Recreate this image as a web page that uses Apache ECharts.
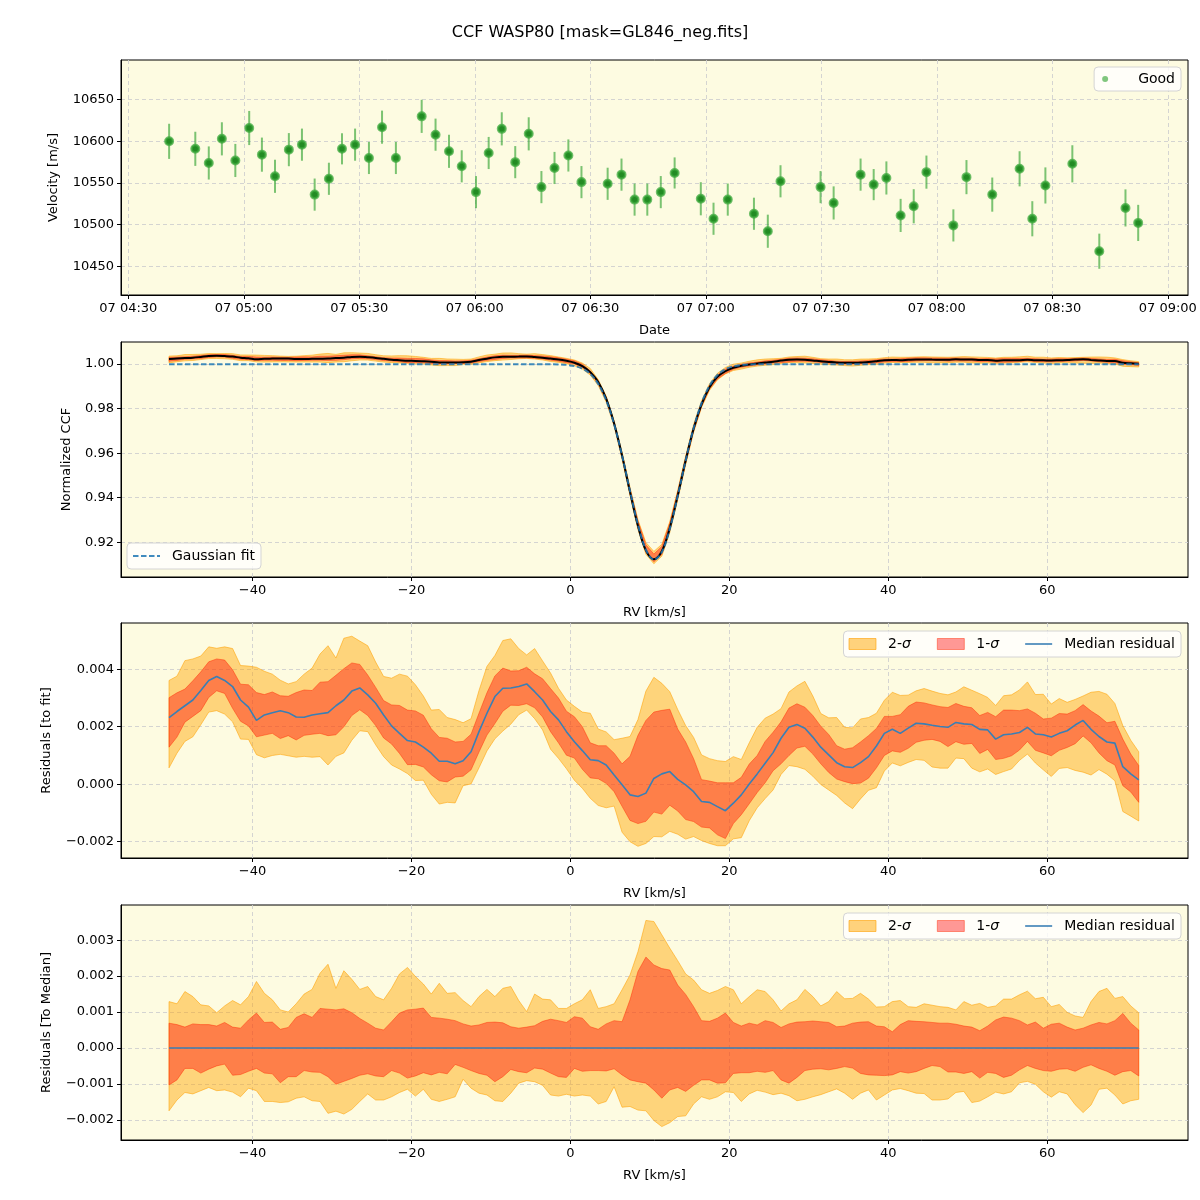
<!DOCTYPE html>
<html>
<head>
<meta charset="utf-8">
<script src="https://cdn.jsdelivr.net/npm/echarts/dist/echarts.min.js"></script>
<style>html,body{margin:0;padding:0;background:#fff}#c{width:1200px;height:1200px}</style>
</head>
<body>
<div id="c"></div>
<script>
// ---------------- DATA ----------------
// Panel 1: RV time series (time of day on the 7th, velocity m/s, error m/s)
const obsTimes = ['04:40:36','04:47:24','04:50:54','04:54:18','04:57:48','05:01:24','05:04:42','05:08:06','05:11:42','05:15:06',
 '05:18:24','05:22:06','05:25:30','05:28:54','05:32:30','05:35:54','05:39:30','05:46:12','05:49:48','05:53:18',
 '05:56:36','06:00:18','06:03:36','06:07:00','06:10:30','06:14:00','06:17:18','06:20:42','06:24:18','06:27:42',
 '06:34:30','06:38:06','06:41:30','06:44:48','06:48:18','06:51:54','06:58:42','07:02:00','07:05:42','07:12:30',
 '07:16:06','07:19:24','07:29:48','07:33:12','07:40:12','07:43:36','07:46:54','07:50:36','07:54:00','07:57:18',
 '08:04:18','08:07:42','08:14:24','08:21:30','08:24:48','08:28:12','08:35:12','08:42:12','08:49:00','08:52:18'];
const obsVel = [10600,10591,10574,10603,10577,10616,10584,10558,10590,10596,
 10536,10555,10591,10596,10580,10617,10580,10630,10608,10588,
 10570,10539,10586,10615,10575,10609,10545,10568,10583,10551,
 10549,10560,10530,10530,10539,10562,10531,10507,10530,10513,
 10492,10552,10545,10526,10560,10548,10556,10511,10522,10563,
 10499,10557,10536,10567,10507,10547,10573,10468,10520,10502];
const obsErr = [21.1,20.5,19.9,19.9,19.9,20.5,20.5,19.9,19.9,19.3,
 19.3,19.3,18.7,19.3,19.3,19.9,19.3,19.9,19.3,19.9,
 19.3,19.3,19.3,19.9,19.3,19.9,19.3,19.3,19.3,19.3,
 19.3,19.3,19.3,19.3,19.3,18.7,19.9,19.3,19.3,19.3,
 19.9,19.3,19.3,19.9,19.3,18.7,19.9,19.9,20.5,19.9,
 19.3,20.5,20.5,21.1,21.1,21.7,22.3,21.1,22.3,21.7];
const timeTicks = ['04:30','05:00','05:30','06:00','06:30','07:00','07:30','08:00','08:30','09:00'];

// Panels 2-4: RV grid (km/s)
const rv = [-50.5,-49.5,-48.5,-47.5,-46.5,-45.5,-44.5,-43.5,-42.5,-41.5,-40.5,-39.5,-38.5,-37.5,-36.5,-35.5,-34.5,-33.5,-32.5,-31.5,
 -30.5,-29.5,-28.5,-27.5,-26.5,-25.5,-24.5,-23.5,-22.5,-21.5,-20.5,-19.5,-18.5,-17.5,-16.5,-15.5,-14.5,-13.5,-12.5,-11.5,
 -10.5,-9.5,-8.5,-7.5,-6.5,-5.5,-4.5,-3.5,-2.5,-1.5,-0.5,0.5,1.5,2.5,3.5,4.5,5.5,6.5,7.5,8.5,
 9.5,10.5,11.5,12.5,13.5,14.5,15.5,16.5,17.5,18.5,19.5,20.5,21.5,22.5,23.5,24.5,25.5,26.5,27.5,28.5,
 29.5,30.5,31.5,32.5,33.5,34.5,35.5,36.5,37.5,38.5,39.5,40.5,41.5,42.5,43.5,44.5,45.5,46.5,47.5,48.5,
 49.5,50.5,51.5,52.5,53.5,54.5,55.5,56.5,57.5,58.5,59.5,60.5,61.5,62.5,63.5,64.5,65.5,66.5,67.5,68.5,
 69.5,70.5,71.5];
// Gaussian fit (dashed line)
const gaussFit = [0.99995,0.99995,0.99995,0.99995,0.99995,0.99995,0.99995,0.99995,0.99995,0.99995,0.99995,0.99995,0.99995,0.99995,0.99995,0.99995,0.99995,0.99995,0.99995,0.99995,
 0.99995,0.99995,0.99995,0.99995,0.99995,0.99995,0.99995,0.99995,0.99995,0.99995,0.99995,0.99995,0.99995,0.99995,0.99995,0.99995,0.99995,0.99995,0.99995,0.99995,
 0.99995,0.99995,0.99995,0.99995,0.99995,0.99995,0.99995,0.99995,0.99992,0.99984,0.99963,0.99912,0.99794,0.99553,0.99110,0.98378,0.97297,0.95890,0.94299,0.92783,
 0.91665,0.91217,0.91557,0.92595,0.94076,0.95673,0.97119,0.98249,0.99027,0.99506,0.99769,0.99900,0.99959,0.99982,0.99991,0.99995,0.99995,0.99995,0.99995,0.99995,
 0.99995,0.99995,0.99995,0.99995,0.99995,0.99995,0.99995,0.99995,0.99995,0.99995,0.99995,0.99995,0.99995,0.99995,0.99995,0.99995,0.99995,0.99995,0.99995,0.99995,
 0.99995,0.99995,0.99995,0.99995,0.99995,0.99995,0.99995,0.99995,0.99995,0.99995,0.99995,0.99995,0.99995,0.99995,0.99995,0.99995,0.99995,0.99995,0.99995,0.99995,
 0.99995,0.99995,0.99995];
// Median residual to fit
const medRes = [0.00232,0.00253,0.00273,0.00293,0.00326,0.00361,0.00375,0.00361,0.00340,0.00293,0.00268,0.00222,0.00241,0.00249,0.00256,0.00249,0.00234,0.00233,0.00241,0.00245,
 0.00249,0.00273,0.00293,0.00324,0.00335,0.00311,0.00282,0.00241,0.00203,0.00177,0.00152,0.00147,0.00129,0.00108,0.00080,0.00080,0.00071,0.00082,0.00113,0.00183,
 0.00247,0.00305,0.00334,0.00335,0.00340,0.00349,0.00322,0.00293,0.00253,0.00224,0.00183,0.00148,0.00117,0.00085,0.00082,0.00067,0.00032,-0.00002,-0.00037,-0.00043,
 -0.00031,0.00020,0.00036,0.00044,0.00017,-0.00002,-0.00026,-0.00060,-0.00063,-0.00078,-0.00092,-0.00066,-0.00037,0.00001,0.00036,0.00073,0.00110,0.00160,0.00198,0.00208,
 0.00195,0.00164,0.00129,0.00102,0.00075,0.00061,0.00058,0.00075,0.00096,0.00133,0.00177,0.00191,0.00177,0.00195,0.00212,0.00210,0.00205,0.00201,0.00198,0.00215,
 0.00210,0.00208,0.00191,0.00189,0.00157,0.00172,0.00175,0.00180,0.00198,0.00175,0.00172,0.00164,0.00177,0.00186,0.00206,0.00222,0.00191,0.00166,0.00147,0.00143,
 0.00061,0.00036,0.00015];
// Percentile offsets relative to the median (panel 4)
const up2 = [0.00129,0.00123,0.00157,0.00143,0.00120,0.00117,0.00098,0.00117,0.00132,0.00120,0.00143,0.00185,0.00152,0.00134,0.00106,0.00100,0.00123,0.00150,0.00163,0.00208,
 0.00233,0.00166,0.00215,0.00191,0.00163,0.00171,0.00143,0.00134,0.00166,0.00206,0.00224,0.00199,0.00178,0.00150,0.00180,0.00152,0.00154,0.00132,0.00115,0.00143,
 0.00163,0.00143,0.00166,0.00171,0.00132,0.00101,0.00150,0.00136,0.00134,0.00110,0.00110,0.00123,0.00134,0.00162,0.00110,0.00115,0.00123,0.00162,0.00203,0.00268,
 0.00355,0.00352,0.00315,0.00278,0.00243,0.00206,0.00189,0.00162,0.00152,0.00160,0.00171,0.00162,0.00123,0.00143,0.00162,0.00157,0.00134,0.00103,0.00123,0.00134,
 0.00163,0.00143,0.00117,0.00129,0.00157,0.00137,0.00138,0.00152,0.00136,0.00114,0.00115,0.00129,0.00132,0.00115,0.00113,0.00123,0.00119,0.00115,0.00113,0.00106,
 0.00129,0.00119,0.00124,0.00113,0.00117,0.00136,0.00136,0.00148,0.00158,0.00137,0.00141,0.00115,0.00121,0.00099,0.00089,0.00085,0.00129,0.00157,0.00166,0.00138,
 0.00143,0.00117,0.00098];
const up1 = [0.00069,0.00065,0.00058,0.00067,0.00065,0.00065,0.00061,0.00071,0.00058,0.00055,0.00078,0.00097,0.00071,0.00072,0.00052,0.00057,0.00085,0.00095,0.00085,0.00110,
 0.00108,0.00106,0.00109,0.00098,0.00082,0.00069,0.00055,0.00050,0.00073,0.00097,0.00106,0.00108,0.00111,0.00085,0.00083,0.00080,0.00076,0.00067,0.00061,0.00064,
 0.00071,0.00072,0.00070,0.00059,0.00055,0.00058,0.00062,0.00074,0.00080,0.00076,0.00071,0.00087,0.00083,0.00059,0.00052,0.00067,0.00076,0.00073,0.00134,0.00213,
 0.00253,0.00231,0.00221,0.00217,0.00175,0.00149,0.00115,0.00076,0.00074,0.00083,0.00097,0.00071,0.00061,0.00069,0.00064,0.00076,0.00071,0.00057,0.00067,0.00072,
 0.00073,0.00075,0.00073,0.00071,0.00059,0.00061,0.00069,0.00072,0.00073,0.00061,0.00059,0.00045,0.00065,0.00076,0.00074,0.00073,0.00071,0.00069,0.00069,0.00066,
 0.00061,0.00058,0.00048,0.00061,0.00078,0.00086,0.00083,0.00076,0.00064,0.00072,0.00055,0.00066,0.00069,0.00058,0.00050,0.00055,0.00064,0.00071,0.00067,0.00076,
 0.00096,0.00069,0.00050];
const lo1 = [-0.00103,-0.00089,-0.00057,-0.00057,-0.00070,-0.00059,-0.00050,-0.00045,-0.00076,-0.00074,-0.00065,-0.00057,-0.00070,-0.00072,-0.00097,-0.00080,-0.00080,-0.00063,-0.00067,-0.00068,
 -0.00080,-0.00101,-0.00093,-0.00085,-0.00076,-0.00072,-0.00078,-0.00080,-0.00063,-0.00070,-0.00084,-0.00078,-0.00069,-0.00075,-0.00068,-0.00072,-0.00046,-0.00054,-0.00063,-0.00071,
 -0.00076,-0.00094,-0.00080,-0.00060,-0.00066,-0.00069,-0.00056,-0.00059,-0.00070,-0.00080,-0.00082,-0.00057,-0.00065,-0.00063,-0.00063,-0.00064,-0.00058,-0.00075,-0.00089,-0.00094,
 -0.00098,-0.00117,-0.00140,-0.00117,-0.00110,-0.00121,-0.00104,-0.00089,-0.00089,-0.00098,-0.00097,-0.00071,-0.00069,-0.00069,-0.00065,-0.00068,-0.00063,-0.00089,-0.00098,-0.00082,
 -0.00063,-0.00059,-0.00058,-0.00061,-0.00057,-0.00052,-0.00056,-0.00071,-0.00075,-0.00076,-0.00077,-0.00075,-0.00066,-0.00070,-0.00066,-0.00057,-0.00049,-0.00052,-0.00067,-0.00067,
 -0.00071,-0.00066,-0.00084,-0.00068,-0.00071,-0.00082,-0.00076,-0.00061,-0.00049,-0.00057,-0.00063,-0.00065,-0.00059,-0.00058,-0.00065,-0.00054,-0.00047,-0.00057,-0.00065,-0.00076,
 -0.00066,-0.00063,-0.00078];
const lo2 = [-0.00175,-0.00145,-0.00124,-0.00128,-0.00119,-0.00110,-0.00119,-0.00117,-0.00123,-0.00136,-0.00112,-0.00119,-0.00149,-0.00149,-0.00152,-0.00150,-0.00140,-0.00136,-0.00147,-0.00149,
 -0.00182,-0.00176,-0.00184,-0.00171,-0.00149,-0.00128,-0.00145,-0.00145,-0.00136,-0.00124,-0.00115,-0.00134,-0.00115,-0.00143,-0.00149,-0.00143,-0.00136,-0.00087,-0.00112,-0.00126,
 -0.00131,-0.00147,-0.00149,-0.00126,-0.00098,-0.00091,-0.00094,-0.00104,-0.00131,-0.00134,-0.00129,-0.00134,-0.00131,-0.00134,-0.00156,-0.00149,-0.00108,-0.00165,-0.00163,-0.00173,
 -0.00175,-0.00202,-0.00219,-0.00208,-0.00191,-0.00189,-0.00156,-0.00136,-0.00143,-0.00136,-0.00122,-0.00124,-0.00149,-0.00128,-0.00118,-0.00123,-0.00130,-0.00126,-0.00133,-0.00147,
 -0.00143,-0.00136,-0.00130,-0.00122,-0.00114,-0.00126,-0.00143,-0.00126,-0.00117,-0.00145,-0.00131,-0.00117,-0.00113,-0.00119,-0.00126,-0.00127,-0.00145,-0.00145,-0.00142,-0.00124,
 -0.00121,-0.00152,-0.00148,-0.00136,-0.00123,-0.00128,-0.00122,-0.00097,-0.00093,-0.00101,-0.00122,-0.00137,-0.00122,-0.00128,-0.00158,-0.00180,-0.00159,-0.00115,-0.00112,-0.00131,
 -0.00156,-0.00147,-0.00143];
const rvTicks = [-40,-20,0,20,40,60];
const velTicks = [10450,10500,10550,10600,10650];
const ccfTicks = [0.92,0.94,0.96,0.98,1.00];
const resTicks = [-0.002,0.000,0.002,0.004];
const medTicks = [-0.002,-0.001,0.000,0.001,0.002,0.003];

// ---------------- BUILD ----------------
const FONT = 'DejaVu Sans';
function toMin(s){const p=s.split(':').map(Number);return p[0]*60+p[1]+(p[2]||0)/60;}
const pad2 = n => (n<10?'0':'')+n;
const minus = s => s.replace('-', '\u2212');
const ccf = rv.map((x,i)=>gaussFit[i]+medRes[i]);
const zeroLine = rv.map(()=>0);

const grids = [60,342,623,905].map(t=>({left:121, top:t, width:1067, height:235, show:true,
  backgroundColor:'#fdfbe1', borderColor:'#000', borderWidth:1, containLabel:false, outerBoundsMode:'none'}));

const gridLine = {show:true, lineStyle:{color:'#cfcfcf', type:[4,3], width:0.9}};
const tickStyle = {show:true, inside:false, length:4, lineStyle:{color:'#000', width:1}};
const lblStyle = {color:'#000', fontSize:13, fontFamily:FONT, margin:7};
const nameStyle = {color:'#000', fontSize:13, fontFamily:FONT};

function xAx(gi, min, max, ticks, fmt, name){
  return {type:'value', gridIndex:gi, min, max, name, nameLocation:'middle', nameGap:29, nameTextStyle:nameStyle,
    axisLine:{show:true, onZero:false, lineStyle:{color:'#000', width:1}},
    axisTick:Object.assign({customValues:ticks}, tickStyle),
    axisLabel:Object.assign({customValues:ticks, formatter:fmt}, lblStyle),
    splitLine:gridLine};
}
function yAx(gi, min, max, ticks, fmt, name, gap){
  return {type:'value', gridIndex:gi, min, max, name, nameLocation:'middle', nameGap:gap, nameTextStyle:nameStyle,
    axisLine:{show:true, onZero:false, lineStyle:{color:'#000', width:1}},
    axisTick:Object.assign({customValues:ticks}, tickStyle),
    axisLabel:Object.assign({customValues:ticks, formatter:fmt}, lblStyle),
    splitLine:gridLine};
}
const timeFmt = v => { const m=Math.round(v); return '07 '+pad2(Math.floor(m/60))+':'+pad2(m%60); };
const rvFmt = v => minus(String(Math.round(v)));

const xAxes = [
  xAx(0, 268.1, 545.24, timeTicks.map(toMin), timeFmt, 'Date'),
  xAx(1, -56.54, 77.7, rvTicks, rvFmt, 'RV [km/s]'),
  xAx(2, -56.54, 77.7, rvTicks, rvFmt, 'RV [km/s]'),
  xAx(3, -56.54, 77.7, rvTicks, rvFmt, 'RV [km/s]')
];
const yAxes = [
  yAx(0, 10415.4, 10697.7, velTicks, v=>String(Math.round(v)), 'Velocity [m/s]', 61),
  yAx(1, 0.9044, 1.0099, ccfTicks, v=>v.toFixed(2), 'Normalized CCF', 48),
  yAx(2, -0.002567, 0.00561, resTicks, v=>minus(v.toFixed(3)), 'Residuals [to fit]', 68),
  yAx(3, -0.002563, 0.00398, medTicks, v=>minus(v.toFixed(3)), 'Residuals [To Median]', 68)
];

const C2 = 'rgba(255,165,0,0.45)', C2e = 'rgba(255,160,0,0.55)';
const C1 = 'rgba(255,0,0,0.4)',   C1e = 'rgba(255,40,0,0.45)';

// Filled band between base+lo and base+up, drawn as one polygon via the axis scales
function band(gi, base, lo, up, name, fill, edge){
  return {type:'custom', name, xAxisIndex:gi, yAxisIndex:gi, silent:true, clip:true,
    data: rv.map((x,i)=>[x, base[i]+lo[i], base[i]+up[i]]),
    encode:{x:0, y:[1,2]},
    renderItem:(params, api)=>{
      if (params.dataIndexInside !== 0) return null;
      const n = params.dataInsideLength;
      const top=[], bot=[];
      for (let k=0;k<n;k++){
        const x = api.value(0,k);
        top.push(api.coord([x, api.value(2,k)]));
        bot.push(api.coord([x, api.value(1,k)]));
      }
      return {type:'polygon', shape:{points: top.concat(bot.reverse())},
        style:{fill:fill, stroke:edge, lineWidth:1}};
    }};
}

const series = [];
// Panel 1
series.push({type:'custom', name:'_err', xAxisIndex:0, yAxisIndex:0, silent:true,
  data: obsTimes.map((t,i)=>[toMin(t), obsVel[i], obsErr[i]]),
  encode:{x:0, y:1},
  renderItem:(params, api)=>{
    const x=api.value(0), y=api.value(1), e=api.value(2);
    const p1=api.coord([x,y-e]), p2=api.coord([x,y+e]);
    return {type:'line', shape:{x1:p1[0],y1:p1[1],x2:p2[0],y2:p2[1]},
      style:{stroke:'rgba(44,160,44,0.62)', lineWidth:2}};
  }});
series.push({type:'scatter', name:'Good', xAxisIndex:0, yAxisIndex:0, symbol:'circle', symbolSize:7.5,
  itemStyle:{color:'#238b23', borderColor:'rgba(60,168,60,0.75)', borderWidth:2.5, opacity:1},
  data: obsTimes.map((t,i)=>[toMin(t), obsVel[i]]), z:3});
// Panel 2
series.push(band(1, ccf, lo2, up2, '_c2', C2, C2e));
series.push(band(1, ccf, lo1, up1, '_c1', C1, C1e));
series.push({type:'line', name:'_ccf', xAxisIndex:1, yAxisIndex:1, symbol:'none', silent:true, smooth:0.35,
  lineStyle:{color:'#000', width:2}, data: rv.map((x,i)=>[x, ccf[i]])});
series.push({type:'line', name:'Gaussian fit', xAxisIndex:1, yAxisIndex:1, symbol:'none', silent:true, smooth:0.35,
  lineStyle:{color:'rgba(31,119,180,0.85)', width:2, type:[5.5,2.5]}, itemStyle:{color:'rgba(31,119,180,0.85)'},
  data: rv.map((x,i)=>[x, gaussFit[i]])});
// Panel 3
series.push(band(2, medRes, lo2, up2, '2-σ', C2, C2e));
series.push(band(2, medRes, lo1, up1, '1-σ', C1, C1e));
series.push({type:'line', name:'Median residual', xAxisIndex:2, yAxisIndex:2, symbol:'none', silent:true,
  lineStyle:{color:'#3a7fb5', width:1.6}, itemStyle:{color:'#3a7fb5'}, data: rv.map((x,i)=>[x, medRes[i]])});
// Panel 4
series.push(band(3, zeroLine, lo2, up2, '2-σ', C2, C2e));
series.push(band(3, zeroLine, lo1, up1, '1-σ', C1, C1e));
series.push({type:'line', name:'Median residual', xAxisIndex:3, yAxisIndex:3, symbol:'none', silent:true,
  lineStyle:{color:'#3a7fb5', width:1.6}, itemStyle:{color:'#3a7fb5'}, data: rv.map((x,i)=>[x, zeroLine[i]])});

const legBox = {backgroundColor:'rgba(255,255,255,0.8)', borderColor:'#d4d4d4', borderWidth:1, borderRadius:4,
  selectedMode:false, orient:'horizontal'};
const legText = {color:'#000', fontSize:14, fontFamily:FONT, padding:[0,0,0,7],
  rich:{i:{fontStyle:'italic', fontSize:14, fontFamily:FONT, color:'#000'}}};
const sigmaFmt = n => n.replace('σ','{i|σ}');
const LINE_ICON = 'path://M0,0h27v1.6h-27z';
const DASH_ICON = 'path://M0,0h5.5v2h-5.5z M8,0h5.5v2h-5.5z M16,0h5.5v2h-5.5z M24,0h3v2h-3z';
const resLegendData = [
  {name:'2-σ', icon:'rect', itemStyle:{color:'rgba(255,165,0,0.5)', borderColor:'rgba(255,160,0,0.6)', borderWidth:1}},
  {name:'1-σ', icon:'rect', itemStyle:{color:'rgba(255,0,0,0.4)', borderColor:'rgba(255,40,0,0.45)', borderWidth:1}},
  {name:'Median residual', icon:LINE_ICON, itemStyle:{color:'#3a7fb5', borderWidth:0}}
];

const option = {
  animation:false,
  backgroundColor:'#ffffff',
  title:{text:'CCF WASP80 [mask=GL846_neg.fits]', left:'center', top:25, padding:0,
    textStyle:{fontSize:16, fontWeight:'normal', color:'#000', fontFamily:FONT}},
  grid:grids,
  xAxis:xAxes,
  yAxis:yAxes,
  legend:[
    Object.assign({}, legBox, {right:19, top:67, padding:[5,6,5,8], itemWidth:20, itemHeight:6, itemGap:10,
      data:[{name:'Good', icon:'circle', itemStyle:{color:'rgba(44,160,44,0.6)', borderWidth:0}}],
      textStyle:Object.assign({}, legText, {padding:[0,0,0,18]})}),
    Object.assign({}, legBox, {left:127, top:543, padding:[6,6,6,6], itemWidth:27, itemHeight:11, itemGap:10,
      data:[{name:'Gaussian fit', icon:DASH_ICON, itemStyle:{color:'rgba(31,119,180,0.85)', borderWidth:0}}], textStyle:legText}),
    Object.assign({}, legBox, {right:19, top:631, padding:[6,6,6,5], itemWidth:27, itemHeight:11, itemGap:26,
      data:resLegendData, formatter:sigmaFmt, textStyle:legText}),
    Object.assign({}, legBox, {right:19, top:913, padding:[6,6,6,5], itemWidth:27, itemHeight:11, itemGap:26,
      data:resLegendData, formatter:sigmaFmt, textStyle:legText})
  ],
  series
};
const chart = echarts.init(document.getElementById('c'), null, {renderer:'canvas'});
chart.setOption(option);
</script>
</body>
</html>
